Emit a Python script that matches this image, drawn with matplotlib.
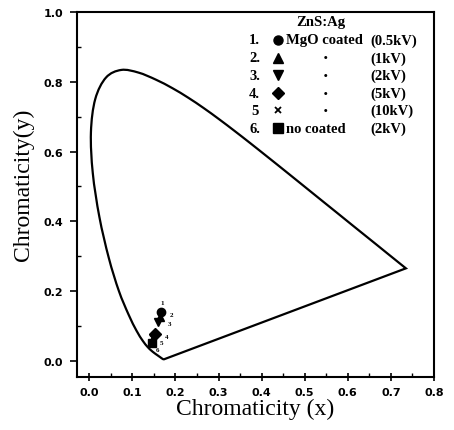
import matplotlib
matplotlib.use("Agg")
import matplotlib.pyplot as plt
from matplotlib.ticker import MultipleLocator, FormatStrFormatter
from matplotlib.path import Path
from matplotlib.patches import PathPatch

# CIE 1931 spectral locus (x, y), 380 nm ... 700 nm
locus_x = [0.1741, 0.1733, 0.1714, 0.1689, 0.1644, 0.1611, 0.1566, 0.1510, 0.1440,
           0.1355, 0.1241, 0.1096, 0.0913, 0.0687, 0.0454, 0.0235, 0.0082, 0.0039,
           0.0139, 0.0389, 0.0743, 0.1142, 0.1547, 0.1929, 0.2296, 0.2658, 0.3016,
           0.3373, 0.3731, 0.4087, 0.4441, 0.4788, 0.5125, 0.5448, 0.5752, 0.6029,
           0.6270, 0.6658, 0.6915, 0.7079, 0.7190, 0.7260, 0.7300, 0.7334, 0.7347]
locus_y = [0.0050, 0.0048, 0.0051, 0.0069, 0.0109, 0.0138, 0.0177, 0.0227, 0.0297,
           0.0399, 0.0578, 0.0868, 0.1327, 0.2007, 0.2950, 0.4127, 0.5384, 0.6548,
           0.7502, 0.8120, 0.8338, 0.8262, 0.8059, 0.7816, 0.7543, 0.7243, 0.6923,
           0.6589, 0.6245, 0.5896, 0.5547, 0.5202, 0.4866, 0.4544, 0.4242, 0.3965,
           0.3725, 0.3340, 0.3083, 0.2920, 0.2809, 0.2740, 0.2700, 0.2666, 0.2653]

# ZnS:Ag samples
sample_ids = ["1", "2", "3", "4", "5", "6"]
sample_x = [0.166, 0.164, 0.160, 0.152, 0.147, 0.145]
sample_y = [0.141, 0.126, 0.112, 0.078, 0.066, 0.052]
sample_markers = ["o", "^", "v", "D", "x", "s"]
legend_num = ["1.", "2.", "3.", "4.", "5", "6."]
legend_desc = ["MgO coated", "\u2022", "\u2022", "\u2022", "\u2022", "no coated"]
legend_kv = ["(0.5kV)", "(1kV)", "(2kV)", "(5kV)", "(10kV)", "(2kV)"]

fig = plt.figure(figsize=(4.54, 4.31), dpi=100)
ax = fig.add_axes([0.170, 0.123, 0.786, 0.847])

# smooth (Catmull-Rom rendered as cubic Bezier) drawing of the locus
pts = list(zip(locus_x, locus_y))
verts = [pts[0]]
codes = [Path.MOVETO]
n = len(pts)
for i in range(n - 1):
    p0 = pts[i - 1] if i > 0 else pts[i]
    p1 = pts[i]
    p2 = pts[i + 1]
    p3 = pts[i + 2] if i + 2 < n else pts[i + 1]
    c1 = (p1[0] + (p2[0] - p0[0]) / 6, p1[1] + (p2[1] - p0[1]) / 6)
    c2 = (p2[0] - (p3[0] - p1[0]) / 6, p2[1] - (p3[1] - p1[1]) / 6)
    verts += [c1, c2, p2]
    codes += [Path.CURVE4] * 3
verts.append(pts[0])
codes.append(Path.LINETO)
ax.add_patch(PathPatch(Path(verts, codes), facecolor="none", edgecolor="black", lw=1.6))

label_offsets = [(0.7, 7), (8.6, 2), (8, -1.5), (8.6, -2), (6.5, -3), (4, -4.5)]
for sid, x, y, m, off in zip(sample_ids, sample_x, sample_y, sample_markers, label_offsets):
    if m == "x":
        ax.plot(x, y, marker=m, color="black", ms=5, mew=1.5, ls="none")
    else:
        ax.plot(x, y, marker=m, color="black", ms=6, ls="none")
    ax.annotate(sid, (x, y), xytext=off, textcoords="offset points",
                fontsize=5, fontweight="bold", ha="center", va="center",
                family="Liberation Serif")

ax.set_xlim(-0.028, 0.8)
ax.set_ylim(-0.046, 1.0)
ax.xaxis.set_major_locator(MultipleLocator(0.1))
ax.xaxis.set_minor_locator(MultipleLocator(0.05))
ax.yaxis.set_major_locator(MultipleLocator(0.2))
ax.yaxis.set_minor_locator(MultipleLocator(0.1))
ax.xaxis.set_major_formatter(FormatStrFormatter("%.1f"))
ax.yaxis.set_major_formatter(FormatStrFormatter("%.1f"))
ax.tick_params(axis="x", which="major", direction="inout", length=6, width=1.2, pad=4)
ax.tick_params(axis="x", which="minor", direction="in", length=3, width=1)
ax.tick_params(axis="y", which="major", direction="out", length=5, width=1.2, pad=5)
ax.tick_params(axis="y", which="minor", direction="in", length=3, width=1)
for lab in ax.get_xticklabels() + ax.get_yticklabels():
    lab.set_fontweight("bold")
    lab.set_fontsize(8)
    lab.set_family("DejaVu Sans")
for sp in ax.spines.values():
    sp.set_linewidth(1.5)

ax.set_xlabel("Chromaticity (x)", fontsize=17, family="Liberation Serif", labelpad=1)
ax.set_ylabel("Chromaticity(y)", fontsize=17, family="Liberation Serif")
ax.yaxis.set_label_coords(-0.122, 0.53)

# text legend block
fs = 10.5
ax.text(0.537, 0.974, "ZnS:Ag", fontsize=fs, fontweight="bold", family="Liberation Serif",
        ha="center", va="center")
row_y = [0.920, 0.868, 0.819, 0.767, 0.718, 0.667]
for yy, num, m, desc, kv in zip(row_y, legend_num, sample_markers, legend_desc, legend_kv):
    ax.text(0.384, yy, num, fontsize=fs, fontweight="bold", family="Liberation Serif",
            ha="center", va="center")
    if m == "x":
        ax.plot(0.437, yy, marker=m, color="black", ms=4, mew=1.3)
    else:
        ax.plot(0.437, yy, marker=m, color="black", ms=6.5)
    if desc == "\u2022":
        ax.text(0.548, yy, desc, fontsize=6, fontweight="bold", family="DejaVu Sans",
                ha="center", va="center")
    else:
        ax.text(0.456, yy, desc, fontsize=fs, fontweight="bold", family="Liberation Serif",
                ha="left", va="center")
    ax.text(0.652, yy, kv, fontsize=fs, fontweight="bold", family="Liberation Serif",
            ha="left", va="center")

fig.savefig("out.png", dpi=100)
